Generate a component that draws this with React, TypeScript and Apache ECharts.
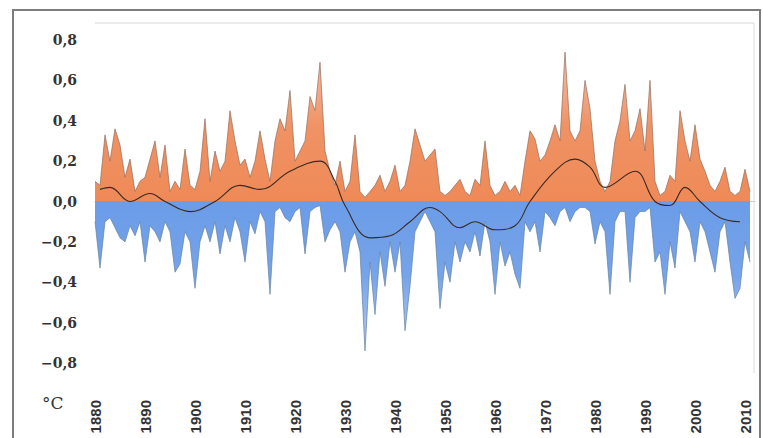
import React, { useEffect, useRef } from "react";
import * as echarts from "echarts";

// Years 1880..2011
const startYear = 1880;
const warmPeaks = [
  0.1, 0.08, 0.33, 0.2, 0.36, 0.28, 0.12, 0.21, 0.05, 0.1,
  0.12, 0.21, 0.3, 0.12, 0.28, 0.05, 0.1, 0.06, 0.26, 0.08,
  0.06, 0.15, 0.41, 0.1, 0.25, 0.15, 0.2, 0.45, 0.3, 0.18,
  0.21, 0.12, 0.2, 0.35, 0.21, 0.1, 0.3, 0.41, 0.35, 0.55,
  0.2, 0.25, 0.3, 0.52, 0.45, 0.69, 0.25, 0.15, 0.08, 0.2,
  0.05, 0.1, 0.33, 0.05, 0.02, 0.05, 0.08, 0.13, 0.05, 0.1,
  0.18, 0.05, 0.08, 0.2, 0.36, 0.28, 0.2, 0.23, 0.26, 0.05,
  0.03, 0.05, 0.08, 0.11, 0.05, 0.03, 0.11, 0.08, 0.3, 0.08,
  0.03, 0.05, 0.1, 0.05, 0.08, 0.03, 0.2, 0.35, 0.31, 0.2,
  0.23, 0.3, 0.38, 0.3, 0.74, 0.35, 0.3, 0.35, 0.6, 0.46,
  0.2, 0.1, 0.05, 0.1, 0.3, 0.4, 0.58, 0.3, 0.35, 0.46,
  0.25, 0.6, 0.1, 0.03, 0.05, 0.13, 0.1, 0.45, 0.3, 0.2,
  0.38, 0.21, 0.15, 0.08, 0.05, 0.1, 0.17, 0.05, 0.03, 0.05,
  0.16, 0.05,
];
const coldPeaks = [
  -0.1, -0.33, -0.1, -0.08, -0.13, -0.18, -0.2, -0.12, -0.17, -0.1,
  -0.3, -0.12, -0.15, -0.2, -0.1, -0.15, -0.35, -0.31, -0.15, -0.2,
  -0.43, -0.2, -0.12, -0.2, -0.1, -0.26, -0.12, -0.2, -0.08, -0.15,
  -0.3, -0.1, -0.16, -0.05, -0.1, -0.46, -0.05, -0.03, -0.08, -0.1,
  -0.05, -0.03, -0.26, -0.05, -0.03, -0.02, -0.2, -0.14, -0.1, -0.15,
  -0.35, -0.2, -0.15, -0.25, -0.74, -0.3, -0.56, -0.25, -0.42, -0.2,
  -0.35, -0.2, -0.64, -0.42, -0.15, -0.1, -0.05, -0.1, -0.15, -0.53,
  -0.3, -0.4, -0.2, -0.3, -0.2, -0.25, -0.15, -0.27, -0.1, -0.2,
  -0.46, -0.2, -0.32, -0.25, -0.36, -0.43, -0.1, -0.15, -0.1, -0.25,
  -0.05, -0.08, -0.12, -0.05, -0.03, -0.1, -0.05, -0.03, -0.03, -0.05,
  -0.21, -0.1, -0.15, -0.46, -0.1, -0.05, -0.05, -0.4, -0.08, -0.05,
  -0.05, -0.03, -0.3, -0.25, -0.46, -0.2, -0.33, -0.05, -0.1, -0.15,
  -0.3, -0.1, -0.15, -0.25, -0.35, -0.15, -0.1, -0.3, -0.48, -0.43,
  -0.2, -0.3,
];
const smoothYears = [
  1881, 1883, 1887, 1891, 1894, 1899, 1904, 1909, 1913, 1919, 1925, 1928,
  1930, 1935, 1939, 1943, 1947, 1949, 1953, 1956, 1960, 1964, 1967, 1972,
  1976, 1979, 1982, 1988, 1992, 1995, 1998, 2001, 2005, 2009,
];
const smoothValues = [
  0.06, 0.07, 0.0, 0.04, 0.0, -0.05, 0.0, 0.08, 0.06, 0.15, 0.2, 0.1,
  -0.02, -0.18, -0.17, -0.1, -0.03, -0.05, -0.13, -0.1, -0.14, -0.12, 0.0, 0.15,
  0.21, 0.17, 0.07, 0.15, 0.0, -0.02, 0.07, 0.0, -0.08, -0.1,
];
const yTicks = [-0.8, -0.6, -0.4, -0.2, 0, 0.2, 0.4, 0.6, 0.8];
const unitLabel = "°C";

const fmtY = (v: number) => {
  const s = Math.abs(v).toFixed(1).replace(".", ",");
  return v < -1e-9 ? "\u2212" + s : s;
};

export default function App() {
  const ref = useRef<HTMLDivElement>(null);
  useEffect(() => {
    if (!ref.current) return;
    const chart = echarts.init(ref.current, null, { renderer: "svg" });
    const warmData = warmPeaks.map((v, i) => [startYear + i, v]);
    const coldData = coldPeaks.map((v, i) => [startYear + i, v]);
    const smoothData = smoothYears.map((y, i) => [y, smoothValues[i]]);
    const warmFill = new echarts.graphic.LinearGradient(0, 0, 0, 1, [
      { offset: 0, color: "rgba(232,100,40,0.6)" },
      { offset: 0.5, color: "rgba(232,92,22,0.95)" },
      { offset: 1, color: "rgba(232,88,16,1)" },
    ]);
    const coldFill = new echarts.graphic.LinearGradient(0, 0, 0, 1, [
      { offset: 0, color: "rgba(44,114,222,1)" },
      { offset: 0.5, color: "rgba(50,118,222,0.95)" },
      { offset: 1, color: "rgba(70,130,220,0.6)" },
    ]);
    chart.setOption({
      animation: false,
      backgroundColor: "#ffffff",
      grid: { left: 95, right: 8, top: 40, bottom: 75 },
      xAxis: {
        type: "value",
        min: 1880,
        max: 2012,
        interval: 10,
        offset: 10,
        axisLine: { show: true, lineStyle: { color: "#d0d0d0", width: 1 } },
        axisTick: { show: false },
        splitLine: { show: false },
        axisLabel: {
          rotate: 90,
          margin: 27,
          fontSize: 15,
          fontWeight: "bold",
          fontFamily: "Liberation Sans",
          color: "#333",
          formatter: (v: number) => (v % 10 === 0 ? String(v) : ""),
        },
      },
      yAxis: {
        type: "value",
        min: yTicks[0],
        max: yTicks[yTicks.length - 1],
        interval: 0.2,
        axisLine: { show: false },
        axisTick: { show: false },
        splitLine: { show: false },
        axisLabel: {
          margin: 18,
          fontSize: 14,
          fontWeight: "bold",
          fontFamily: "DejaVu Serif",
          color: "#333",
          formatter: (v: number) => fmtY(v),
        },
      },
      graphic: [
        {
          type: "rect",
          shape: { x: 13, y: 10, width: 747, height: 460 },
          style: { fill: "none", stroke: "#7d7d7d", lineWidth: 2 },
          silent: true,
        },
        {
          type: "line",
          shape: { x1: 95, y1: 23, x2: 754, y2: 23 },
          style: { stroke: "#d8d8d8", lineWidth: 1 },
          silent: true,
        },
        {
          type: "line",
          shape: { x1: 754, y1: 23, x2: 754, y2: 373 },
          style: { stroke: "#dcdcdc", lineWidth: 1 },
          silent: true,
        },
        {
          type: "text",
          x: 42,
          y: 394,
          style: {
            text: unitLabel,
            fontSize: 17,
            fontFamily: "DejaVu Serif",
            fill: "#333",
          },
          silent: true,
        },
      ],
      series: [
        {
          type: "line",
          data: warmData,
          showSymbol: false,
          lineStyle: { color: "#8f6a5c", width: 0.8, opacity: 0.85 },
          areaStyle: { color: warmFill },
          z: 2,
        },
        {
          type: "line",
          data: coldData,
          showSymbol: false,
          lineStyle: { color: "#60809f", width: 0.8, opacity: 0.85 },
          areaStyle: { color: coldFill },
          z: 2,
        },
        {
          type: "line",
          data: smoothData,
          smooth: 0.4,
          showSymbol: false,
          lineStyle: { color: "#3a2a22", width: 1.1 },
          z: 3,
        },
      ],
    });
    return () => chart.dispose();
  }, []);
  return (
    <div
      ref={ref}
      style={{ position: "absolute", left: 0, top: 0, width: 763, height: 438 }}
    />
  );
}
